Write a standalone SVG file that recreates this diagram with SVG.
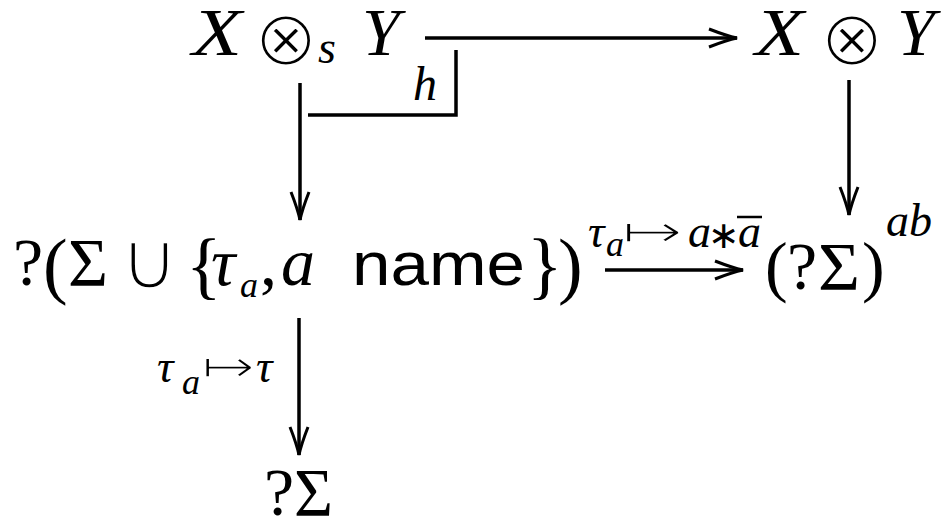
<svg xmlns="http://www.w3.org/2000/svg" width="943" height="519" viewBox="0 0 943 519">
<style>
.mi{font-family:"Liberation Serif",serif;font-style:italic;fill:#000}
.mr{font-family:"Liberation Serif",serif;fill:#000}
.sy{font-family:"DejaVu Sans","DejaVu Serif",sans-serif;fill:#000}
.thin{stroke:#fff;stroke-width:3;paint-order:fill}
.sf{font-family:"Liberation Sans",sans-serif;fill:#000}
.L{font-size:68px}
.S{font-size:46px}
.SS{font-size:36px}
.ln{fill:none;stroke:#000;stroke-width:3.5}
</style>
<defs>
<marker id="ah" markerUnits="userSpaceOnUse" orient="auto" markerWidth="40" markerHeight="30" refX="0" refY="0" viewBox="-32 -15 40 30" overflow="visible">
<path d="M-28,-9 Q-10,-2 0,0 Q-10,2 -28,9" fill="none" stroke="#000" stroke-width="3"/>
</marker>
</defs>
<g id="connectors">
<line class="ln" x1="425" y1="38" x2="737" y2="38" marker-end="url(#ah)"/>
<polyline class="ln" points="456,50 456,115 308,115"/>
<line class="ln" x1="300" y1="83" x2="300" y2="220" marker-end="url(#ah)"/>
<line class="ln" x1="849" y1="80" x2="849" y2="215" marker-end="url(#ah)"/>
<line class="ln" x1="605" y1="270" x2="743" y2="270" marker-end="url(#ah)"/>
<line class="ln" x1="299" y1="318" x2="299" y2="455" marker-end="url(#ah)"/>
</g>
<g id="label-h"><text class="mi" x="413" y="100" font-size="48">h</text></g>
<g id="node-XsY">
<text class="sy thin" x="286" y="65" font-size="78" text-anchor="middle">⊗</text>
<text class="mi L" x="192" y="55" textLength="50" lengthAdjust="spacingAndGlyphs">X</text>
<text class="mi S" x="318" y="63">s</text>
<text class="mi L" x="362" y="55">Y</text>
</g>
<g id="node-XY">
<text class="sy thin" x="852" y="65" font-size="78" text-anchor="middle">⊗</text>
<text class="mi L" x="755" y="55" textLength="49" lengthAdjust="spacingAndGlyphs">X</text>
<text class="mi L" x="897" y="55">Y</text>
</g>
<g id="node-mid">
<text class="sy thin" x="149" y="289" font-size="82" text-anchor="middle" style="stroke-width:3.5">∪</text>
<text class="mr L" x="13" y="285">?</text>
<text class="mr" x="43" y="290" font-size="74">(</text>
<text class="mr L" x="68" y="285" textLength="40" lengthAdjust="spacingAndGlyphs">Σ</text>
<text class="mr" x="186" y="290" font-size="74">{</text>
<text class="mi L" x="211" y="285">τ</text>
<text class="mi SS" x="240" y="297">a</text>
<text class="mr L" x="260" y="285">,</text>
<text class="mi L" x="281" y="285">a</text>
<text class="sf" x="352" y="285" font-size="62" textLength="173" lengthAdjust="spacingAndGlyphs">name</text>
<text class="mr" x="527" y="290" font-size="74">}</text>
<text class="mr" x="558" y="290" font-size="74">)</text>
</g>
<g id="label-tau-a-star">
<text class="sy S thin" x="621" y="247" textLength="62" lengthAdjust="spacingAndGlyphs" style="stroke-width:2">↦</text>
<text class="mi S" x="588" y="247">τ</text>
<text class="mi SS" x="606" y="256">a</text>
<text class="mi S" x="688" y="247">a</text>
<text class="sy" x="724" y="248" font-size="38" text-anchor="middle">∗</text>
<text class="mi S" x="738" y="247">a</text>
<line x1="737" y1="217" x2="762" y2="217" stroke="#000" stroke-width="2.5"/>
</g>
<g id="node-right">
<text class="mr L" x="765" y="289">(</text>
<text class="mr L" x="787" y="289">?</text>
<text class="mr L" x="818" y="289" textLength="42" lengthAdjust="spacingAndGlyphs">Σ</text>
<text class="mr L" x="862" y="289">)</text>
<text class="mi S" x="886" y="236">ab</text>
</g>
<g id="label-tau">
<text class="sy S thin" x="201" y="382" textLength="54" lengthAdjust="spacingAndGlyphs" style="stroke-width:2">↦</text>
<text class="mi S" x="157" y="382">τ</text>
<text class="mi SS" x="182" y="394">a</text>
<text class="mi S" x="256" y="382">τ</text>
</g>
<g id="node-bottom">
<text class="mr L" x="264" y="515">?</text>
<text class="mr L" x="294" y="515" textLength="39" lengthAdjust="spacingAndGlyphs">Σ</text>
</g>
</svg>
